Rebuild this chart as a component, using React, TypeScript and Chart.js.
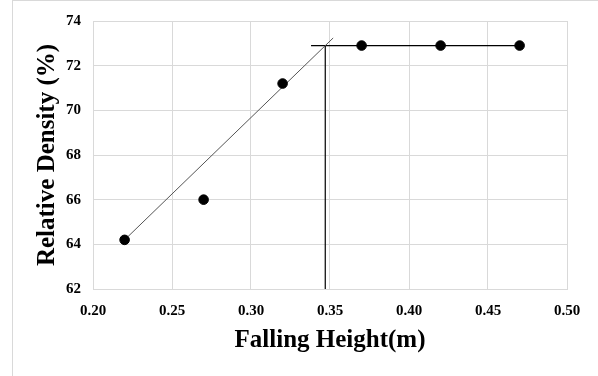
import React, { useEffect, useRef } from "react";
import { Chart, registerables } from "chart.js";

Chart.register(...registerables);

const heights = [0.22, 0.27, 0.32, 0.37, 0.42, 0.47];
const densities = [64.2, 66.0, 71.2, 72.9, 72.9, 72.9];
const fitLineX = [0.22, 0.352];
const fitLineY = [64.2, 73.24];
const plateauX = [0.338, 0.47];
const plateauY = [72.9, 72.9];
const verticalX = [0.347, 0.347];
const verticalY = [62, 72.9];
const xTitle = "Falling Height(m)";
const yTitle = "Relative Density (%)";

const toPts = (xs: number[], ys: number[]) => xs.map((x, i) => ({ x, y: ys[i] }));

const frame = {
  id: "frame",
  beforeDraw(chart: any) {
    const { ctx } = chart;
    ctx.save();
    ctx.fillStyle = "#ffffff";
    ctx.fillRect(0, 0, chart.width, chart.height);
    ctx.strokeStyle = "#d9d9d9";
    ctx.lineWidth = 1;
    ctx.strokeRect(12.5, 0.5, 700, 500);
    ctx.restore();
  },
};

export default function App() {
  const ref = useRef<HTMLCanvasElement>(null);
  useEffect(() => {
    const font = { family: "'Liberation Serif', 'Times New Roman', serif", weight: "bold" as const };
    const chart = new Chart(ref.current!, {
      type: "scatter",
      data: {
        datasets: [
          {
            data: toPts(heights, densities),
            backgroundColor: "#000000",
            borderColor: "#000000",
            pointRadius: 4.8,
            showLine: false,
          },
          {
            data: toPts(fitLineX, fitLineY),
            borderColor: "#555555",
            borderWidth: 1,
            pointRadius: 0,
            showLine: true,
          },
          {
            data: toPts(plateauX, plateauY),
            borderColor: "#000000",
            borderWidth: 1.2,
            pointRadius: 0,
            showLine: true,
          },
          {
            data: toPts(verticalX, verticalY),
            borderColor: "#000000",
            borderWidth: 1.2,
            pointRadius: 0,
            showLine: true,
          },
        ],
      },
      options: {
        animation: false,
        responsive: true,
        maintainAspectRatio: false,
        layout: { padding: { left: 13, top: 18, right: 31, bottom: 0 } },
        plugins: { legend: { display: false }, tooltip: { enabled: false } },
        scales: {
          x: {
            type: "linear",
            min: 0.2,
            max: 0.5,
            afterFit: (s: any) => { s.height = 87; },
            ticks: {
              stepSize: 0.05,
              padding: 13,
              color: "#000000",
              font: { ...font, size: 15 },
              callback: (v: any) => Number(v).toFixed(2),
            },
            grid: { color: "#d9d9d9", drawTicks: false },
            border: { color: "#d9d9d9" },
            title: {
              display: true,
              text: xTitle,
              color: "#000000",
              font: { ...font, size: 25 },
              padding: { top: 4, bottom: 20 },
            },
          },
          y: {
            type: "linear",
            min: 62,
            max: 74,
            afterFit: (s: any) => { s.width = 80; },
            ticks: {
              stepSize: 2,
              padding: 12,
              color: "#000000",
              font: { ...font, size: 15 },
            },
            grid: { color: "#d9d9d9", drawTicks: false },
            border: { color: "#d9d9d9" },
            title: {
              display: true,
              text: yTitle,
              color: "#000000",
              font: { ...font, size: 25 },
              padding: { top: 20, bottom: 4 },
            },
          },
        },
      },
      plugins: [frame],
    });
    return () => chart.destroy();
  }, []);
  return (
    <div style={{ position: "fixed", left: 0, top: 0, width: 598, height: 376, background: "#fff" }}>
      <canvas ref={ref} />
    </div>
  );
}
